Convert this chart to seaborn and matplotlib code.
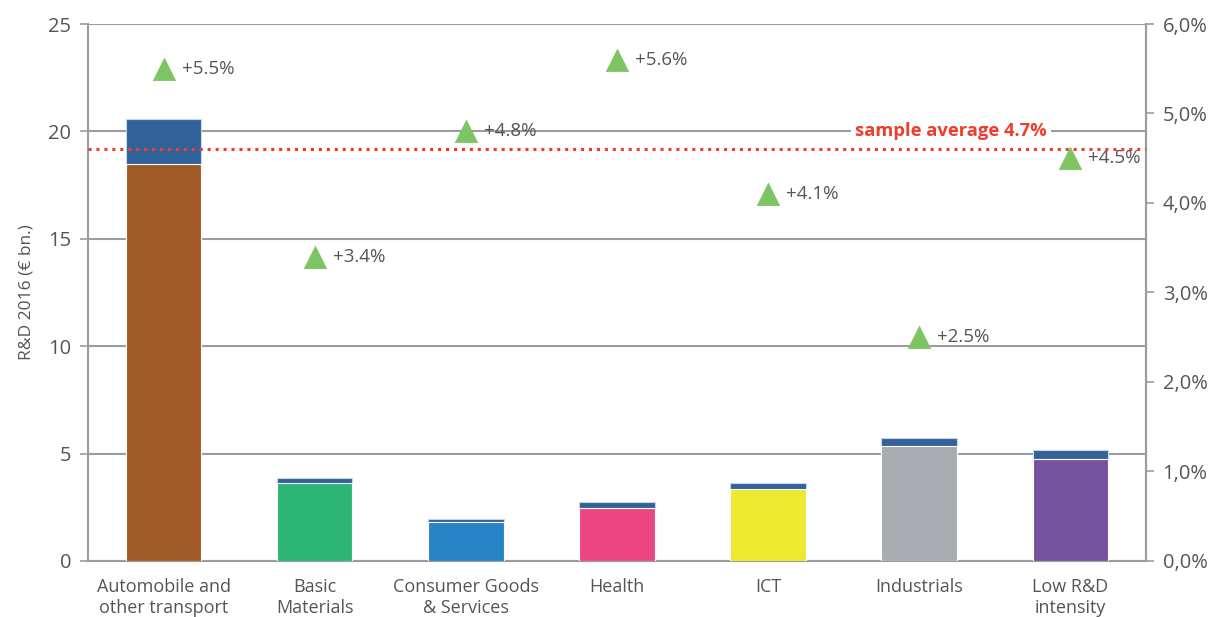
import numpy as np
import pandas as pd
import seaborn as sns
import matplotlib.pyplot as plt
from matplotlib.ticker import FuncFormatter

# Data
sectors = ['Automobile and\nother transport', 'Basic\nMaterials', 'Consumer Goods\n& Services',
           'Health', 'ICT', 'Industrials', 'Low R&D\nintensity']
rd_2016_total = [20.6, 3.88, 1.97, 2.76, 3.62, 5.71, 5.17]   # full bar height (€ bn)
rd_2016_base = [18.5, 3.62, 1.80, 2.45, 3.35, 5.35, 4.73]    # coloured part (€ bn)
growth = [5.5, 3.4, 4.8, 5.6, 4.1, 2.5, 4.5]                  # % growth (right axis)
growth_labels = ['+5.5%', '+3.4%', '+4.8%', '+5.6%', '+4.1%', '+2.5%', '+4.5%']
sample_avg_line = 4.6
sample_avg_label = 'sample average 4.7%'

sector_colors = ['#A05A25', '#2DB573', '#2884C6', '#EE4682', '#EDE830', '#A8ACB0', '#77529E']
top_color = '#31629A'
grey = '#9A9C9F'
text_col = '#555555'

df = pd.DataFrame({'sector': sectors, 'total': rd_2016_total, 'base': rd_2016_base})

sns.set_style('white')
plt.rcParams['font.family'] = ['Open Sans', 'DejaVu Sans']
plt.rcParams['text.color'] = text_col

fig = plt.figure(figsize=(12.12, 6.17), dpi=100)
ax = fig.add_axes([0.0726, 0.0908, 0.8729, 0.8703])

# stacked bars: full total in dark blue, coloured base drawn over it
sns.barplot(data=df, x='sector', y='total', color=top_color, width=0.5, saturation=1,
            edgecolor='#C9D6E6', linewidth=0.8, ax=ax, zorder=2)
sns.barplot(data=df, x='sector', y='base', hue='sector', palette=sector_colors, saturation=1,
            width=0.5, legend=False, edgecolor='white', linewidth=0.8, ax=ax, zorder=3)

ax.set_xlim(-0.5, len(sectors) - 0.5)
ax.set_ylim(0, 25)
ax.set_yticks([0, 5, 10, 15, 20, 25])
ax.yaxis.grid(True, color=grey, linewidth=1.5, zorder=0)
ax.set_axisbelow(True)
ax.set_xlabel('')
ax.set_ylabel('R&D 2016 (€ bn.)', fontsize=12.5, color=text_col, labelpad=10)
ax.tick_params(axis='y', colors=grey, labelcolor=text_col, labelsize=14.5,
               length=6, width=1.2, direction='out', left=True, pad=6)
ax.tick_params(axis='x', length=0, labelsize=13, labelcolor=text_col, pad=12)
for lbl in ax.get_xticklabels():
    lbl.set_linespacing(1.25)
ax.spines['top'].set_visible(False)
for sp in ['left', 'right', 'bottom']:
    ax.spines[sp].set_color(grey)
    ax.spines[sp].set_linewidth(1.5)

# right axis with growth markers
ax2 = ax.twinx()
ax2.set_ylim(0, 6)
ax2.set_yticks(np.arange(0, 7, 1))
ax2.yaxis.set_major_formatter(FuncFormatter(lambda v, p: f'{v:.1f}%'.replace('.', ',')))
ax2.tick_params(axis='y', colors=grey, labelcolor=text_col, labelsize=14.5,
                length=6, width=1.2, direction='out', right=True, pad=6)
for sp in ['top', 'left', 'bottom']:
    ax2.spines[sp].set_visible(False)
ax2.spines['right'].set_color(grey)
ax2.spines['right'].set_linewidth(1.5)

ax2.axhline(sample_avg_line, color='#F03C2C', linestyle=(0, (1, 1.6)), linewidth=2.2, zorder=4)
ax2.text(5.21, 20 * 6 / 25, sample_avg_label, color='#F03C2C', fontsize=13.2, fontweight='bold',
         ha='center', va='center', zorder=5,
         bbox=dict(facecolor='white', edgecolor='none', pad=3))

xpos = np.arange(len(sectors))
sns.scatterplot(x=xpos, y=growth, marker='^', s=260, color='#7DC462', edgecolor='#7DC462',
                linewidth=0.5, ax=ax2, zorder=6, legend=False)
for x, g, lab in zip(xpos, growth, growth_labels):
    ax2.annotate(lab, (x, g), xytext=(13, 0), textcoords='offset points',
                 ha='left', va='center', fontsize=13.5, color=text_col)

fig.savefig('out.png', dpi=100)
